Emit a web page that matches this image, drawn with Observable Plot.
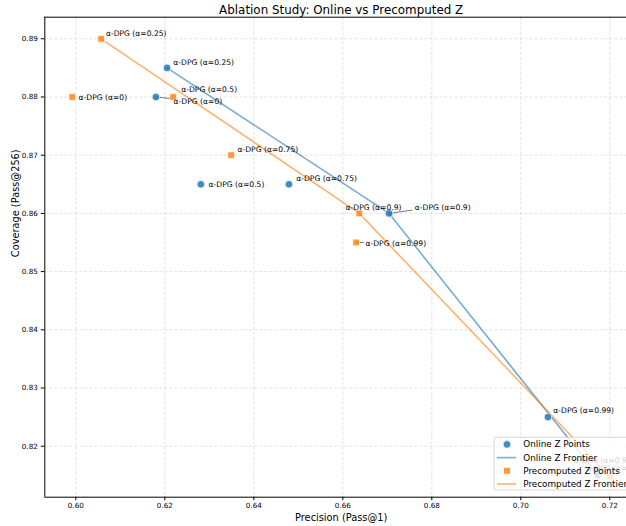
<!DOCTYPE html>
<html><head><meta charset="utf-8">
<script src="https://cdn.jsdelivr.net/npm/d3@7"></script>
<script src="https://cdn.jsdelivr.net/npm/@observablehq/plot@0.6"></script>
<style>html,body{margin:0;padding:0;background:#fff;overflow:hidden;width:626px;height:526px}</style>
</head><body><div id="chart"></div>
<script>
// ---- data ----
const alphas = ["0", "0.25", "0.5", "0.75", "0.9", "0.99", "0.999"];
const onlinePrecision = [0.6180, 0.6205, 0.6281, 0.6479, 0.6704, 0.7061, 0.7173];
const onlineCoverage  = [0.880, 0.885, 0.865, 0.865, 0.860, 0.825, 0.815];
const precompPrecision = [0.5992, 0.6057, 0.6219, 0.6349, 0.6637, 0.6630, 0.7200];
const precompCoverage  = [0.880, 0.890, 0.880, 0.870, 0.860, 0.855, 0.8148];
const frontierAlphas = ["0.25", "0.9", "0.999"];
const xTicks = [0.60, 0.62, 0.64, 0.66, 0.68, 0.70, 0.72];
const yTicks = [0.82, 0.83, 0.84, 0.85, 0.86, 0.87, 0.88, 0.89];
const seriesNames = ["Online Z", "Precomputed Z"];
const legendLabels = ["Online Z Points", "Online Z Frontier", "Precomputed Z Points", "Precomputed Z Frontier"];
const titleText = "Ablation Study: Online vs Precomputed Z";
const xLabel = "Precision (Pass@1)";
const yLabel = "Coverage (Pass@256)";

// ---- layout (pixel offsets of annotation labels, as placed in the reference) ----
const labelOffsets = {
  "Online Z":      {"0":[17.7,4.3], "0.25":[6.3,-5.6], "0.5":[7.7,0], "0.75":[7.3,-6], "0.9":[25.7,-6], "0.99":[5.4,-6.3], "0.999":[-24,-15]},
  "Precomputed Z": {"0":[6.3,0.6], "0.25":[4.7,-5.6], "0.5":[8,-7], "0.75":[6.4,-6], "0.9":[-13.7,-6], "0.99":[9.3,1], "0.999":[-23,-8]}
};
const leaderEnds = {"Online Z": {"0":[15,1.6], "0.9":[23.4,-3.3]}, "Precomputed Z": {"0.99":[7.6,0]}};

const W = 626, H = 526, mL = 44.3, mR = 0, mT = 16.7, mB = 29.3;
const xDomain = [0.59303, 0.72375];
const yDomain = [0.81124, 0.89371];
const blue = "#1f77b4", orange = "#ff7f0e";

const mk = (name, P, C) => alphas.map((a, i) => ({series: name, alpha: a, label: `α-DPG (α=${a})`, x: P[i], y: C[i]}));
const online = mk(seriesNames[0], onlinePrecision, onlineCoverage);
const precomp = mk(seriesNames[1], precompPrecision, precompCoverage);
const onlineFront = frontierAlphas.map(a => online.find(d => d.alpha === a));
const precompFront = frontierAlphas.map(a => precomp.find(d => d.alpha === a));

const kx = (W - mL - mR) / (xDomain[1] - xDomain[0]);
const ky = (H - mT - mB) / (yDomain[1] - yDomain[0]);
const leaders = [];
for (const d of [...online, ...precomp]) {
  const e = leaderEnds[d.series][d.alpha];
  if (e) leaders.push({x1: d.x, y1: d.y, x2: d.x + e[0] / kx, y2: d.y - e[1] / ky});
}

const labelMarks = [...online, ...precomp].map(d => {
  const [dx, dy] = labelOffsets[d.series][d.alpha];
  return Plot.text([d], {x: "x", y: "y", text: "label", dx, dy, textAnchor: "start", fontSize: 7.6, fill: "#000"});
});

const plot = Plot.plot({
  width: W, height: H,
  marginLeft: mL, marginRight: mR, marginTop: mT, marginBottom: mB,
  style: {fontFamily: "DejaVu Sans", fontSize: "7.2px", background: "white", color: "#000", overflow: "hidden"},
  x: {domain: xDomain, ticks: xTicks, tickFormat: ".2f", tickSize: 3.5, tickPadding: 2.5, label: null},
  y: {domain: yDomain, ticks: yTicks, tickFormat: ".2f", tickSize: 3.5, tickPadding: 3.5, label: null},
  marks: [
    Plot.ruleX(xTicks, {stroke: "#b0b0b0", strokeOpacity: 0.5, strokeWidth: 0.7, strokeDasharray: "3,2"}),
    Plot.ruleY(yTicks, {stroke: "#b0b0b0", strokeOpacity: 0.5, strokeWidth: 0.7, strokeDasharray: "3,2"}),
    Plot.line(onlineFront, {x: "x", y: "y", stroke: blue, strokeOpacity: 0.6, strokeWidth: 1.6}),
    Plot.line(precompFront, {x: "x", y: "y", stroke: orange, strokeOpacity: 0.6, strokeWidth: 1.6}),
    Plot.link(leaders, {x1: "x1", y1: "y1", x2: "x2", y2: "y2", stroke: "#555", strokeWidth: 0.8}),
    Plot.dot(online, {x: "x", y: "y", r: 3.8, fill: blue, fillOpacity: 0.85, stroke: "white", strokeWidth: 0.7}),
    Plot.dot(precomp, {x: "x", y: "y", r: 3.8, symbol: "square", fill: orange, fillOpacity: 0.8, stroke: "white", strokeWidth: 0.7}),
    ...labelMarks,
    Plot.ruleX([xDomain[0]], {stroke: "#000", strokeWidth: 1}),
    Plot.ruleY(yDomain, {stroke: "#000", strokeWidth: 1}),
    Plot.text([titleText], {text: d => d, frameAnchor: "top", lineAnchor: "middle", dy: -7.5, dx: 5.5, fontSize: 11.9}),
    Plot.text([xLabel], {text: d => d, frameAnchor: "bottom", lineAnchor: "middle", dy: 20.5, dx: 5.5, fontSize: 9.8}),
    Plot.text([yLabel], {text: d => d, frameAnchor: "left", lineAnchor: "middle", dx: -29.3, rotate: -90, fontSize: 9.8})
  ]
});
document.getElementById("chart").appendChild(plot);

// legend (lower right, semi-transparent frame over the plot)
const svg = d3.select(plot);
const lg = svg.append("g").attr("font-family", "DejaVu Sans").attr("font-size", 8.8).attr("text-anchor", "start");
lg.append("rect").attr("x", 494).attr("y", 437.3).attr("width", 138).attr("height", 52.7).attr("rx", 2.5)
  .attr("fill", "white").attr("fill-opacity", 0.8).attr("stroke", "#cccccc").attr("stroke-width", 0.8);
const rows = [444.4, 457.6, 470.8, 484];
legendLabels.forEach((t, i) => {
  const y = rows[i], c = i < 2 ? blue : orange;
  if (i === 0) lg.append("circle").attr("cx", 507).attr("cy", y).attr("r", 3.8).attr("fill", c).attr("fill-opacity", 0.85).attr("stroke", "white").attr("stroke-width", 0.7);
  if (i === 2) lg.append("rect").attr("x", 507 - 3.35).attr("y", y - 3.35).attr("width", 6.7).attr("height", 6.7).attr("fill", c).attr("fill-opacity", 0.8).attr("stroke", "white").attr("stroke-width", 0.7);
  if (i === 1 || i === 3) lg.append("line").attr("x1", 497).attr("x2", 516).attr("y1", y).attr("y2", y).attr("stroke", c).attr("stroke-opacity", 0.6).attr("stroke-width", 1.6);
  lg.append("text").attr("x", 523.3).attr("y", y).attr("dy", "0.35em").attr("fill", "#000").text(t);
});
</script>
</body></html>
